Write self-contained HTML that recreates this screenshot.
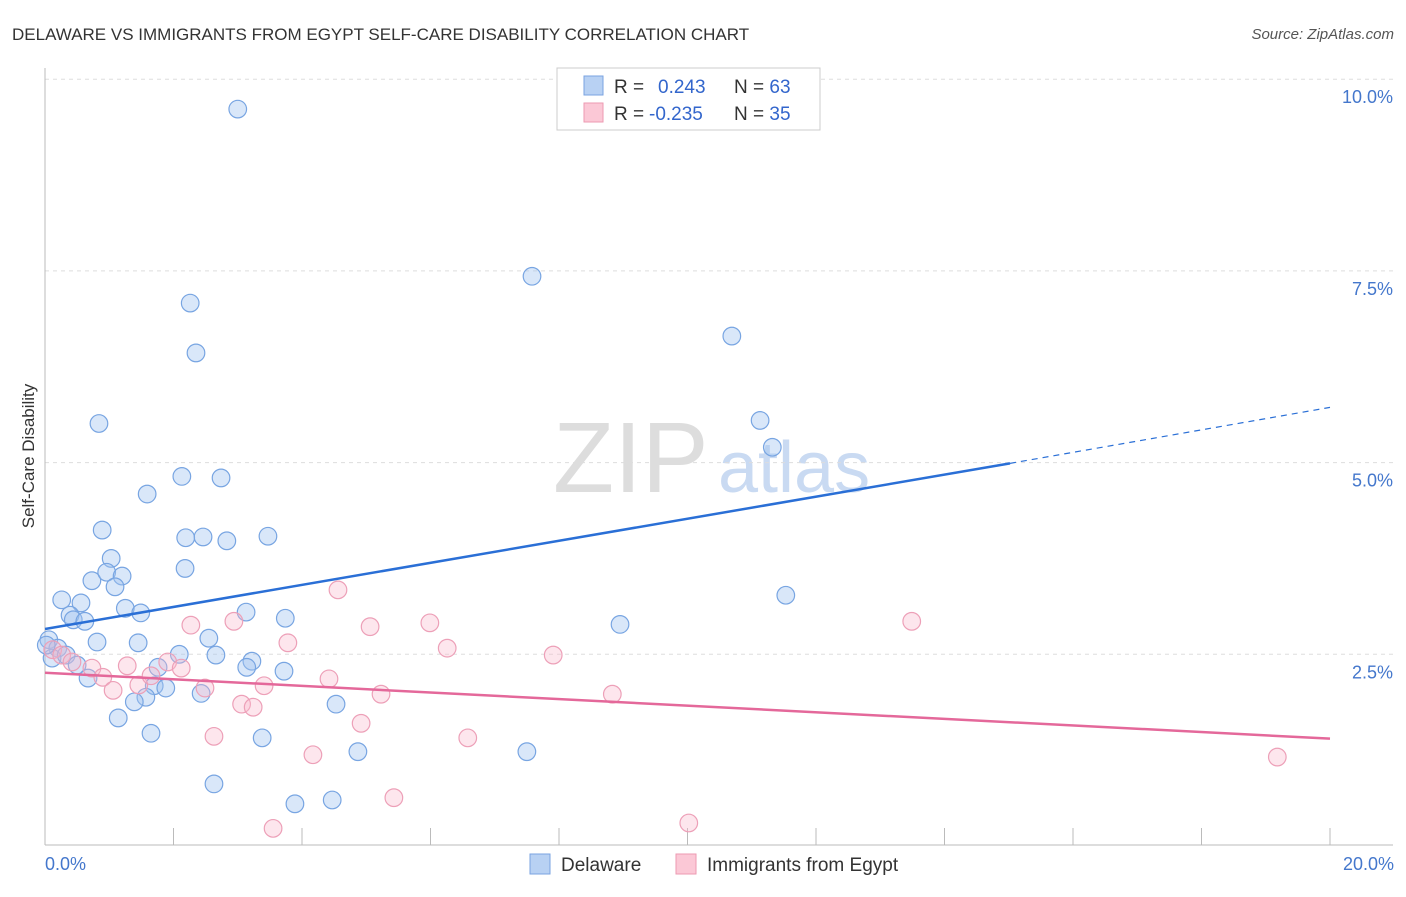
<!DOCTYPE html>
<html><head><meta charset="utf-8"><style>
body{margin:0;background:#fff;font-family:"Liberation Sans",sans-serif}
svg text{font-family:"Liberation Sans",sans-serif}
</style></head><body>
<svg id="c" width="1406" height="892" xmlns="http://www.w3.org/2000/svg">
<text x="12" y="40" font-size="17" fill="#333">DELAWARE VS IMMIGRANTS FROM EGYPT SELF-CARE DISABILITY CORRELATION CHART</text>
<text x="1394" y="39" font-size="15" fill="#555" font-style="italic" text-anchor="end">Source: ZipAtlas.com</text>
<g>
<text x="553" y="492" font-size="100" font-family="Liberation Serif" fill="#ddd">ZIP</text>
<text x="718" y="492" font-size="72" fill="#c9daf2">atlas</text>
</g>
<g id="grid"></g><g id="axes"></g><g id="pts"></g><g id="trend"></g>
<text transform="translate(34,456) rotate(-90)" font-size="17" fill="#333" text-anchor="middle">Self-Care Disability</text>
<text x="45" y="870" font-size="18" fill="#4477cc">0.0%</text>
<text x="1394" y="870" font-size="18" fill="#4477cc" text-anchor="end">20.0%</text>
<g>
<rect x="557" y="68" width="263" height="62" fill="#fff" stroke="#ccc"/>
<rect x="584" y="76" width="19" height="19" fill="#b8d1f3" stroke="#7aa3e0"/>
<rect x="584" y="103" width="19" height="19" fill="#fbc8d6" stroke="#ec9ab2"/>
<text x="614" y="93" font-size="19" fill="#333">R = <tspan fill="#3366cc" x="658">0.243</tspan><tspan x="734">N = </tspan><tspan fill="#3366cc">63</tspan></text>
<text x="614" y="120" font-size="19" fill="#333">R = <tspan fill="#3366cc" x="649">-0.235</tspan><tspan x="734">N = </tspan><tspan fill="#3366cc">35</tspan></text>
</g>
<g>
<rect x="530" y="854" width="20" height="20" fill="#b8d1f3" stroke="#7aa3e0"/>
<text x="561" y="871" font-size="19" fill="#333">Delaware</text>
<rect x="676" y="854" width="20" height="20" fill="#fbc8d6" stroke="#ec9ab2"/>
<text x="707" y="871" font-size="19" fill="#333">Immigrants from Egypt</text>
</g>
</svg>
<script>
const yTicks=[2.5,5.0,7.5,10.0];
const yTickLabels=["2.5%","5.0%","7.5%","10.0%"];
const xTicks=[0,2,4,6,8,10,12,14,16,18,20];
const blueX=[3.00,7.58,2.26,2.35,10.69,0.84,11.13,11.32,2.13,2.74,1.59,0.89,2.19,2.46,2.83,3.47,1.03,2.18,0.73,0.96,1.20,1.09,0.26,0.56,0.39,1.25,1.49,0.44,0.62,3.13,3.74,11.53,8.95,0.81,1.45,2.55,0.06,0.20,0.11,0.33,2.09,2.66,3.22,3.14,1.76,0.50,3.72,0.67,1.70,1.88,2.43,1.57,1.39,4.53,1.14,1.65,3.38,4.87,7.50,2.63,3.89,4.47,0.02];
const blueY=[9.61,7.43,7.08,6.43,6.65,5.51,5.55,5.20,4.82,4.80,4.59,4.12,4.02,4.03,3.98,4.04,3.75,3.62,3.46,3.57,3.52,3.38,3.21,3.17,3.01,3.10,3.04,2.95,2.93,3.05,2.97,3.27,2.89,2.66,2.65,2.71,2.69,2.58,2.45,2.49,2.50,2.49,2.41,2.33,2.33,2.36,2.28,2.19,2.09,2.06,1.99,1.94,1.88,1.85,1.67,1.47,1.41,1.23,1.23,0.81,0.55,0.60,2.62];
const pinkX=[0.12,0.26,0.42,0.73,0.90,1.06,1.28,1.46,1.65,1.91,2.12,2.27,2.49,2.63,2.94,3.06,3.24,3.41,3.55,3.78,4.17,4.42,4.56,4.92,5.06,5.23,5.43,5.99,6.26,6.58,7.91,8.83,10.02,13.49,19.18];
const pinkY=[2.56,2.49,2.40,2.32,2.20,2.03,2.35,2.10,2.22,2.40,2.32,2.88,2.06,1.43,2.93,1.85,1.81,2.09,0.23,2.65,1.19,2.18,3.34,1.60,2.86,1.98,0.63,2.91,2.58,1.41,2.49,1.98,0.30,2.93,1.16];
const blueTrend=[2.83,4.99,5.72]; // at x=0, 15.02, 20
const pinkTrend=[2.26,1.40];
const X=v=>45+v*64.25, Y=v=>846-v*76.68;
const NS="http://www.w3.org/2000/svg";
function mk(p,t,a){const e=document.createElementNS(NS,t);for(const k in a)e.setAttribute(k,a[k]);document.getElementById(p).appendChild(e);return e;}
yTicks.forEach((t,i)=>{
 const l=mk('grid','line',{x1:45,x2:1393,y1:Y(t),y2:Y(t),stroke:'#ddd','stroke-dasharray':'4,4'});
 
 
 const tx=mk('grid','text',{x:1393,y:Y(t)+24,'font-size':18,fill:'#4477cc','text-anchor':'end'});
 tx.textContent=yTickLabels[i];
 
 
});
const ya=mk('axes','line',{x1:45,x2:45,y1:68,y2:845,stroke:'#bbb'});


const xa=mk('axes','line',{x1:45,x2:1393,y1:845,y2:845,stroke:'#bbb'});


xTicks.forEach(t=>{const l=mk('axes','line',{x1:X(t),x2:X(t),y1:828,y2:845,stroke:'#bbb'});
 
 });
blueX.forEach((v,i)=>{const c=mk('pts','circle',{cx:X(v),cy:Y(blueY[i]),r:8.8,fill:'rgba(160,196,240,0.4)',stroke:'#78a5e2','stroke-width':1.2});
 
 });
pinkX.forEach((v,i)=>{const c=mk('pts','circle',{cx:X(v),cy:Y(pinkY[i]),r:8.8,fill:'rgba(248,184,204,0.35)',stroke:'#eda0b8','stroke-width':1.2});
 
 });
const b1=mk('trend','line',{x1:X(0),y1:Y(blueTrend[0]),x2:X(15.02),y2:Y(blueTrend[1]),stroke:'#2a6fd6','stroke-width':2.5});


const b2=mk('trend','line',{x1:X(15.02),y1:Y(blueTrend[1]),x2:X(20),y2:Y(blueTrend[2]),stroke:'#2a6fd6','stroke-width':1.2,'stroke-dasharray':'6,5'});


const p1=mk('trend','line',{x1:X(0),y1:Y(pinkTrend[0]),x2:X(20),y2:Y(pinkTrend[1]),stroke:'#e4689a','stroke-width':2.5});


</script>
</body></html>
